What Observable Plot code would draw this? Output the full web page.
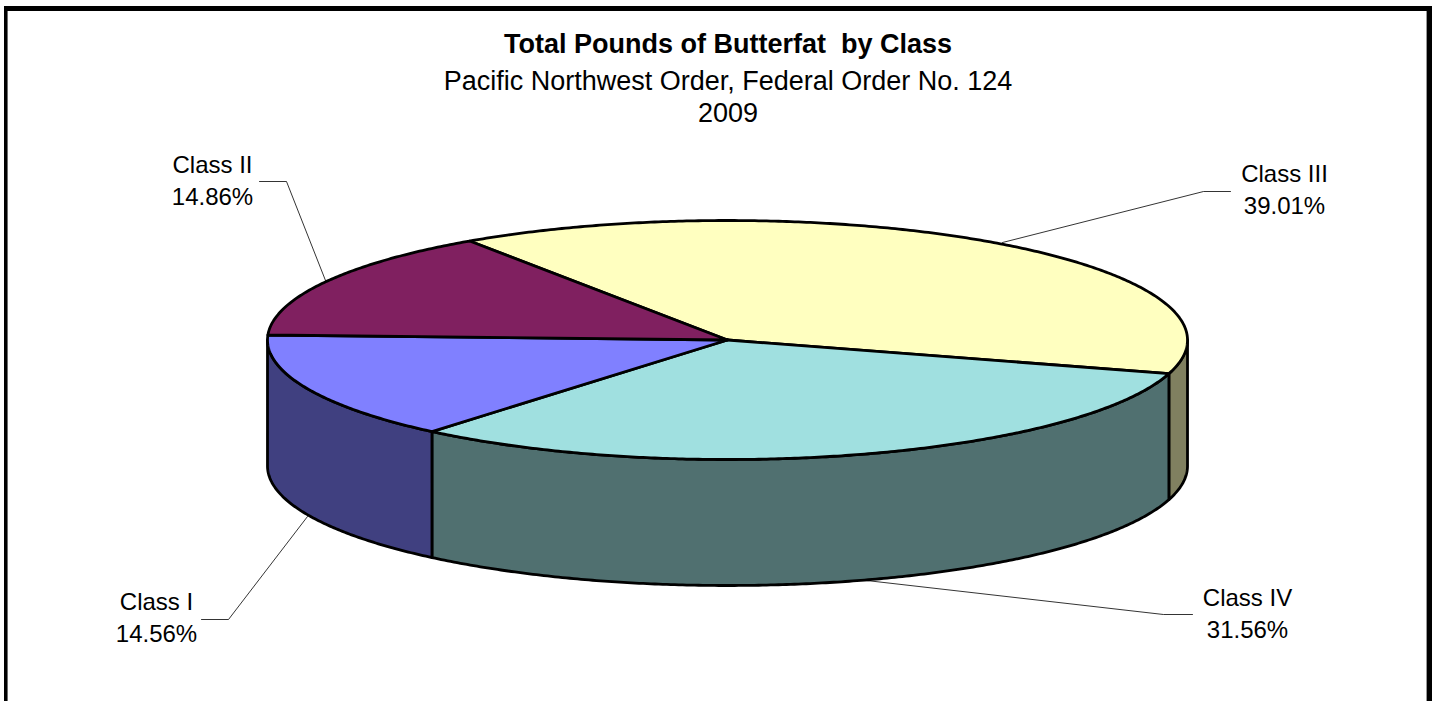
<!DOCTYPE html>
<html><head><meta charset="utf-8">
<script src="https://cdn.jsdelivr.net/npm/d3@7"></script>
<script src="https://cdn.jsdelivr.net/npm/@observablehq/plot@0.6"></script>
<style>html,body{margin:0;padding:0;background:#fff}svg{display:block}</style>
</head><body><div id="chart"></div>
<script>
const classes = ["Class III","Class IV","Class I","Class II"];
const shares = [39.01,31.56,14.56,14.86];
const topColors = ["#FFFFC0","#A0E0E0","#8080FF","#802060"];
const sideColors = ["#808060","#507070","#404080","#802060"];
const titleLines = ["Total Pounds of Butterfat  by Class","Pacific Northwest Order, Federal Order No. 124","2009"];

// layout of the tilted disc
const cx=727, cy=339.5, rx=460, ry=119.5, depth=126, startDeg=-34.1;
const W=1435, H=701;
const rad=d=>d*Math.PI/180;
const total=d3.sum(shares);
let acc=startDeg;
const slices=classes.map((c,i)=>{const a0=acc; acc+=shares[i]/total*360; return {c,i,a0,a1:acc};});
const pt=(deg,dz=0)=>({x:cx+rx*Math.sin(rad(deg)),y:cy-ry*Math.cos(rad(deg))+dz});
const arc=(a0,a1,dz=0)=>{const n=Math.max(2,Math.ceil((a1-a0)*2));return d3.range(n+1).map(k=>pt(a0+(a1-a0)*k/n,dz));};

const tops=slices.flatMap(s=>[{x:cx,y:cy},...arc(s.a0,s.a1),{x:cx,y:cy}].map(p=>({...p,id:s.c,fill:topColors[s.i]})));
const sides=slices.flatMap(s=>{
  const a0=Math.max(s.a0,90), a1=Math.min(s.a1,270);
  if(a1<=a0) return [];
  const up=arc(a0,a1), down=arc(a0,a1,depth).reverse();
  return [...up,...down,up[0]].map(p=>({...p,id:s.c,fill:sideColors[s.i]}));
});

const leaders=[
 {id:"Class II",pts:[[259,181],[286,181],[325,280]]},
 {id:"Class III",pts:[[1002,242],[1203,191],[1230,191]]},
 {id:"Class IV",pts:[[866,580],[1163,614],[1192,614]]},
 {id:"Class I",pts:[[307,516],[228,619],[201,619]]}
].flatMap(l=>l.pts.map(([x,y])=>({x,y,id:l.id})));

const labelAt={"Class II":[212,165,197],"Class III":[1284,174,206],"Class IV":[1247,598,630],"Class I":[156,602,634]};
const labels=classes.flatMap((c,i)=>[
 {x:labelAt[c][0],y:labelAt[c][1],t:c},
 {x:labelAt[c][0],y:labelAt[c][2],t:shares[i].toFixed(2)+"%"}]);

const plot=Plot.plot({
  width:W,height:H,margin:0,
  style:{background:"#fff",fontFamily:"'Liberation Sans',Arial,sans-serif"},
  x:{domain:[0,W],range:[0,W],axis:null},
  y:{domain:[0,H],range:[0,H],axis:null},
  color:{type:"identity"},
  marks:[
    Plot.rect([{}],{x1:4,x2:1432,y1:6,y2:H+5,fill:"#000"}),
    Plot.rect([{}],{x1:7.7,x2:1427,y1:11,y2:H+5,fill:"#999"}),
    Plot.rect([{}],{x1:7.7,x2:1426,y1:11,y2:H+5,fill:"#fff"}),
    Plot.line(leaders,{x:"x",y:"y",z:"id",stroke:"#000",strokeWidth:0.8}),
    Plot.line(sides,{x:"x",y:"y",z:"id",fill:"fill",stroke:"#000",strokeWidth:2.8,strokeLinejoin:"round"}),
    Plot.line(tops,{x:"x",y:"y",z:"id",fill:"fill",stroke:"#000",strokeWidth:2.8,strokeLinejoin:"round"}),
    Plot.text([titleLines[0]],{x:727.5,y:44,text:d=>d,fontWeight:"bold",fontSize:27,fill:"#000"}),
    Plot.text([titleLines[1]],{x:727.5,y:81,text:d=>d,fontSize:27,fill:"#000"}),
    Plot.text([titleLines[2]],{x:727.5,y:113,text:d=>d,fontSize:27,fill:"#000"}),
    Plot.text(labels,{x:"x",y:"y",text:"t",fontSize:24,fill:"#000"})
  ]
});
document.getElementById("chart").append(plot);
</script></body></html>
